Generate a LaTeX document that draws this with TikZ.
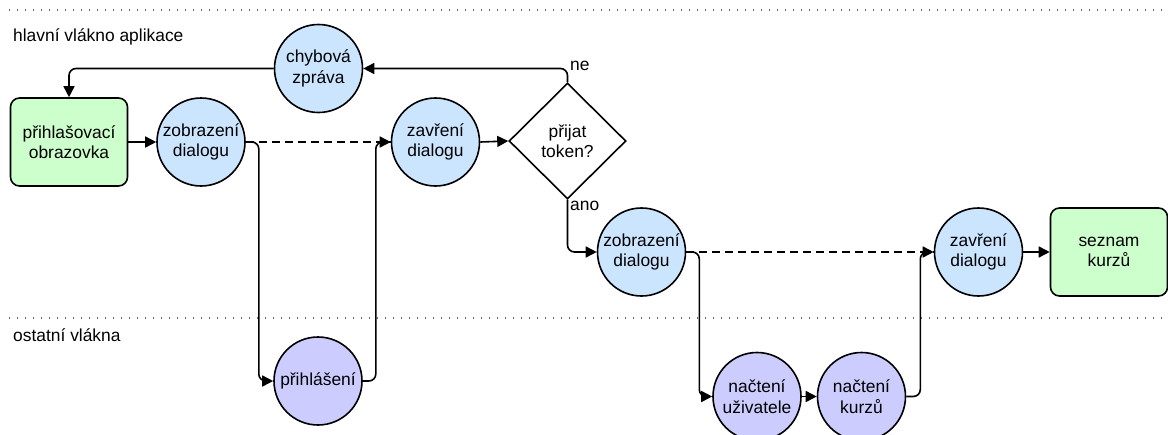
\documentclass[tikz,border=0pt]{standalone}
\usepackage{fontspec}
\setmainfont{Liberation Sans}
\usetikzlibrary{arrows.meta,shapes.geometric}
\definecolor{mainblue}{HTML}{CCE5FF}
\definecolor{otherviolet}{HTML}{CCCCFF}
\definecolor{boxgreen}{HTML}{CCFFCC}
\tikzset{
  lbl/.style={font=\fontsize{17.4}{20.5}\selectfont, align=center},
  circmain/.style={lbl, circle, draw, line width=1.6pt, fill=mainblue, minimum size=88pt, inner sep=0pt},
  circother/.style={lbl, circle, draw, line width=1.6pt, fill=otherviolet, minimum size=88pt, inner sep=0pt},
  screenbox/.style={lbl, rectangle, rounded corners=9pt, draw, line width=1.6pt, fill=boxgreen, minimum width=117pt, minimum height=88pt, inner sep=0pt},
  decision/.style={lbl, diamond, draw, line width=1.6pt, fill=white, minimum width=117pt, minimum height=116pt, inner sep=0pt, aspect=1},
  conn/.style={line width=1.6pt, rounded corners=7pt, -{Triangle[length=11pt,width=11pt]}},
  dashconn/.style={line width=1.6pt, dash pattern=on 8pt off 5pt},
  laneline/.style={line width=1.2pt, gray!80!black, dash pattern=on 1.4pt off 6.6pt},
  lanetext/.style={font=\fontsize{17.4}{20.5}\selectfont, anchor=west, inner sep=0pt},
  edgetext/.style={font=\fontsize{17.4}{20.5}\selectfont, anchor=west, inner sep=0pt}
}
\begin{document}
\begin{tikzpicture}[x=1pt,y=-1pt]
\useasboundingbox (0,0) rectangle (1168,434);
\clip (0,0) rectangle (1168,434);
% lanes
\coordinate (l1a) at (9,10);
\coordinate (l1b) at (1168,10);
\coordinate (l2a) at (9,318);
\coordinate (l2b) at (1168,318);
\draw[laneline] (l1a) -- (l1b);
\draw[laneline] (l2a) -- (l2b);
\node[lanetext] (lane1) at (13,37) {hlavní vlákno aplikace};
\node[lanetext] (lane2) at (13,335) {ostatní vlákna};
% nodes
\node[screenbox] (login) at (69,142) {přihlašovací\\obrazovka};
\node[circmain] (zob1) at (201,142) {zobrazení\\dialogu};
\node[circmain] (chyba) at (318.5,68.5) {chybová\\zpráva};
\node[circmain] (zav1) at (435.5,142) {zavření\\dialogu};
\node[decision] (dec) at (567.5,141) {přijat\\token?};
\node[circother] (prihl) at (318,381) {přihlášení};
\node[circmain] (zob2) at (641.5,252) {zobrazení\\dialogu};
\node[circother] (nacU) at (757,396.5) {načtení\\uživatele};
\node[circother] (nacK) at (861.5,396.5) {načtení\\kurzů};
\node[circmain] (zav2) at (978.5,252) {zavření\\dialogu};
\node[screenbox] (seznam) at (1109,252) {seznam\\kurzů};
% connectors
\draw[conn] (login.east) -- (zob1.west);
\draw[dashconn] (zob1.east) -- (zav1.west);
\draw[conn] (zob1.east) -- ++(13,0) |- (prihl.west);
\draw[conn] (prihl.east) -- ++(13,0) |- (zav1.west);
\draw[conn] (zav1.east) -- (dec.west);
\draw[conn] (dec.north) |- (chyba.east);
\draw[conn] (chyba.west) -| (login.north);
\draw[conn] (dec.south) |- (zob2.west);
\draw[dashconn] (zob2.east) -- (zav2.west);
\draw[conn] (zob2.east) -- ++(13,0) |- (nacU.west);
\draw[conn] (nacU.east) -- (nacK.west);
\draw[conn] (nacK.east) -- ++(14,0) |- (zav2.west);
\draw[conn] (zav2.east) -- (seznam.west);
% edge labels
\node[edgetext] (ne) at (570,66) {ne};
\node[edgetext] (ano) at (570,206) {ano};
\end{tikzpicture}
\end{document}
